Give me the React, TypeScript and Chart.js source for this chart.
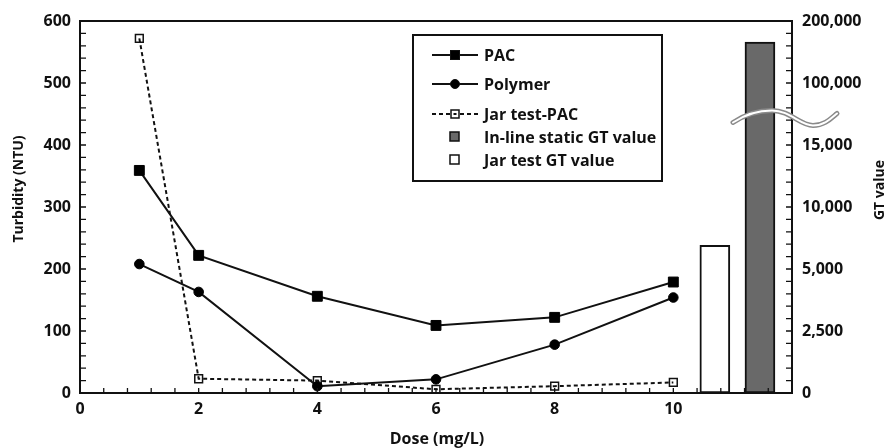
import React, { useEffect, useRef } from 'react';
import { Chart, registerables } from 'chart.js';

Chart.register(...registerables);

// ---- data ----
const doses = [1, 2, 4, 6, 8, 10];
const pacTurbidity = [359, 222, 156, 109, 122, 179];
const polymerTurbidity = [208, 163, 11, 22, 78, 154];
const jarPacTurbidity = [572, 23, 20, 6, 11, 17];

const gtSeriesLabels = ['In-line static GT value', 'Jar test GT value'];
const gtDose = [11.46, 10.7];
const gtValues = [166000, 6900];

const xTickLabels = ['0', '2', '4', '6', '8', '10'];
const turbidityTicks = [0, 100, 200, 300, 400, 500, 600];
const gtTickValues = [0, 2500, 5000, 10000, 15000, 100000, 200000];
const gtTickLabels = ['0', '2,500', '5,000', '10,000', '15,000', '100,000', '200,000'];

const FONT = "'Open Sans', sans-serif";
const INK = '#111111';

// broken GT axis: each labelled GT value sits on one turbidity gridline
function gtToAxis(v: number): number {
  for (let i = 0; i < gtTickValues.length - 1; i++) {
    const a = gtTickValues[i];
    const b = gtTickValues[i + 1];
    if (v <= b) return turbidityTicks[i] + ((v - a) / (b - a)) * (turbidityTicks[i + 1] - turbidityTicks[i]);
  }
  return turbidityTicks[turbidityTicks.length - 1];
}

const decorPlugin = {
  id: 'decor',
  afterDraw(chart: any) {
    const ctx = chart.ctx;
    const a = chart.chartArea;
    const sx = chart.scales.x;
    const sy = chart.scales.y;
    const sy2 = chart.scales.y2;
    ctx.save();
    ctx.setLineDash([]);

    // axis break mark
    const yc = sy2.getPixelForValue(446);
    const r = a.right;
    const wave = () => {
      ctx.beginPath();
      ctx.moveTo(r - 59, yc + 6);
      ctx.bezierCurveTo(r - 47, yc - 2, r - 32, yc - 6, r - 20, yc - 6);
      ctx.bezierCurveTo(r - 2, yc - 6, r + 8, yc + 9, r + 21, yc + 9);
      ctx.bezierCurveTo(r + 33, yc + 9, r + 40, yc + 1, r + 45, yc - 3);
      ctx.stroke();
    };
    ctx.lineCap = 'round';
    ctx.strokeStyle = '#8a8a8a';
    ctx.lineWidth = 5;
    wave();
    ctx.strokeStyle = '#ffffff';
    ctx.lineWidth = 2;
    wave();
    ctx.lineCap = 'butt';

    // axis titles
    ctx.fillStyle = INK;
    ctx.textAlign = 'center';
    ctx.textBaseline = 'middle';
    ctx.font = `bold 14px ${FONT}`;
    ctx.save();
    ctx.translate(19, 189);
    ctx.rotate(-Math.PI / 2);
    ctx.fillText('Turbidity (NTU)', 0, 0);
    ctx.restore();
    ctx.save();
    ctx.translate(880, 190);
    ctx.rotate(-Math.PI / 2);
    ctx.fillText('GT value', 0, 0);
    ctx.restore();
    ctx.font = `bold 16px ${FONT}`;
    ctx.fillText('Dose (mg/L)', 437, 439);

    // legend
    const lx = 413, ly = 35, lw = 249, lh = 146;
    ctx.fillStyle = '#ffffff';
    ctx.fillRect(lx, ly, lw, lh);
    ctx.strokeStyle = INK;
    ctx.lineWidth = 2;
    ctx.strokeRect(lx, ly, lw, lh);
    const rows = [55, 84, 114, 137, 160];
    const ds = chart.data.datasets;
    ctx.font = `bold 16px ${FONT}`;
    ctx.textAlign = 'left';
    ds.forEach((d: any, i: number) => {
      const y = rows[i];
      const mx = 455;
      if (d.type === 'line') {
        ctx.strokeStyle = INK;
        ctx.lineWidth = 2;
        ctx.setLineDash(d.borderDash || []);
        ctx.beginPath();
        ctx.moveTo(432, y);
        ctx.lineTo(478, y);
        ctx.stroke();
        ctx.setLineDash([]);
        ctx.lineWidth = d.pointBorderWidth;
        if (d.pointStyle === 'circle') {
          ctx.fillStyle = d.pointBackgroundColor;
          ctx.beginPath();
          ctx.arc(mx, y, 4.5, 0, Math.PI * 2);
          ctx.fill();
          ctx.stroke();
        } else if (d.borderDash) {
          ctx.fillStyle = '#ffffff';
          ctx.fillRect(mx - 4, y - 4, 8, 8);
          ctx.strokeRect(mx - 4, y - 4, 8, 8);
          ctx.fillStyle = INK;
          ctx.fillRect(mx - 1.5, y - 1, 3, 2);
        } else {
          ctx.fillStyle = d.pointBackgroundColor;
          ctx.fillRect(mx - 4.5, y - 4.5, 9, 9);
          ctx.strokeRect(mx - 4.5, y - 4.5, 9, 9);
        }
      } else {
        ctx.fillStyle = d.backgroundColor;
        ctx.strokeStyle = INK;
        ctx.lineWidth = 1.5;
        ctx.fillRect(mx - 5, y - 5, 9, 9);
        ctx.strokeRect(mx - 5, y - 5, 9, 9);
      }
      ctx.fillStyle = INK;
      ctx.fillText(d.label, 484, y + 1);
    });

    // frame top line + inward ticks
    const L = Number(a.left), T = Number(a.top), R = Number(a.right), B = Number(a.bottom);
    ctx.strokeStyle = INK;
    ctx.lineWidth = 2;
    ctx.beginPath();
    ctx.moveTo(L - 1, T);
    ctx.lineTo(R + 1, T);
    ctx.stroke();
    ctx.lineWidth = 1.3;
    ctx.beginPath();
    for (let v = 20; v < 600; v += 20) {
      const y = sy.getPixelForValue(v);
      ctx.moveTo(L, y);
      ctx.lineTo(L + 6, y);
      const y2 = sy2.getPixelForValue(v);
      ctx.moveTo(R, y2);
      ctx.lineTo(R - 6, y2);
    }
    for (let i = 1; i < 30; i++) {
      const x = sx.getPixelForValue(i * 0.4);
      ctx.moveTo(x, B);
      ctx.lineTo(x, B - 5);
    }
    ctx.stroke();
    ctx.restore();
  },
};

export default function App() {
  const ref = useRef<HTMLCanvasElement | null>(null);

  useEffect(() => {
    const canvas = ref.current;
    if (!canvas) return;
    const tickFont = { family: FONT, size: 16, weight: 'bold' as const };

    const chart = new Chart(canvas, {
      type: 'line',
      data: {
        datasets: [
          {
            type: 'line',
            label: 'PAC',
            data: doses.map((x, i) => ({ x, y: pacTurbidity[i] })),
            borderColor: INK,
            borderWidth: 2,
            pointStyle: 'rect',
            pointRadius: 7,
            pointBackgroundColor: '#000000',
            pointBorderColor: '#000000',
            pointBorderWidth: 1,
            yAxisID: 'y',
            clip: false,
          },
          {
            type: 'line',
            label: 'Polymer',
            data: doses.map((x, i) => ({ x, y: polymerTurbidity[i] })),
            borderColor: INK,
            borderWidth: 2,
            pointStyle: 'circle',
            pointRadius: 4.8,
            pointBackgroundColor: '#000000',
            pointBorderColor: '#000000',
            pointBorderWidth: 1,
            yAxisID: 'y',
            clip: false,
          },
          {
            type: 'line',
            label: 'Jar test-PAC',
            data: doses.map((x, i) => ({ x, y: jarPacTurbidity[i] })),
            borderColor: INK,
            borderWidth: 2,
            borderDash: [4, 3],
            pointStyle: 'rect',
            pointRadius: 5.5,
            pointBackgroundColor: 'rgba(255,255,255,0)',
            pointBorderColor: INK,
            pointBorderWidth: 1.5,
            yAxisID: 'y',
            clip: false,
          },
          {
            type: 'bar',
            label: gtSeriesLabels[0],
            data: [{ x: gtDose[0], y: gtToAxis(gtValues[0]) }],
            backgroundColor: '#696969',
            borderColor: INK,
            borderWidth: 2,
            borderSkipped: false,
            barThickness: 30,
            grouped: false,
            yAxisID: 'y2',
          },
          {
            type: 'bar',
            label: gtSeriesLabels[1],
            data: [{ x: gtDose[1], y: gtToAxis(gtValues[1]) }],
            backgroundColor: '#ffffff',
            borderColor: INK,
            borderWidth: 2,
            borderSkipped: false,
            barThickness: 30,
            grouped: false,
            yAxisID: 'y2',
          },
        ] as any,
      },
      options: {
        responsive: false,
        animation: false,
        layout: { padding: { top: 21, left: 0, right: 0, bottom: 0 } },
        plugins: { legend: { display: false }, tooltip: { enabled: false } },
        scales: {
          x: {
            type: 'linear',
            offset: false,
            min: 0,
            max: 12,
            grid: { display: false, drawTicks: false, offset: false },
            border: { display: true, color: INK, width: 2 },
            ticks: {
              stepSize: 2,
              padding: 7,
              color: INK,
              font: tickFont,
              maxRotation: 0,
              autoSkip: false,
              callback: (v: any) => xTickLabels[Math.round(Number(v) / 2)] ?? '',
            },
            afterFit: (s: any) => { s.height = 55; },
          },
          y: {
            type: 'linear',
            position: 'left',
            min: 0,
            max: 600,
            grid: { display: false, drawTicks: false },
            border: { display: true, color: INK, width: 2 },
            ticks: {
              stepSize: 100,
              padding: 9,
              color: INK,
              font: tickFont,
              callback: (v: any) => (turbidityTicks.includes(Number(v)) ? String(v) : ''),
            },
            afterFit: (s: any) => { s.width = 80; },
          },
          y2: {
            type: 'linear',
            position: 'right',
            min: 0,
            max: 600,
            grid: { display: false, drawTicks: false },
            border: { display: true, color: INK, width: 2 },
            ticks: {
              stepSize: 100,
              padding: 10,
              color: INK,
              font: tickFont,
              callback: (v: any) => gtTickLabels[turbidityTicks.indexOf(Number(v))] ?? '',
            },
            afterFit: (s: any) => { s.width = 101; },
          },
        },
      } as any,
      plugins: [decorPlugin],
    });
    return () => chart.destroy();
  }, []);

  return (
    <div style={{ position: 'absolute', left: 0, top: 0, width: 893, height: 448, background: '#fff' }}>
      <canvas ref={ref} width={893} height={448} />
    </div>
  );
}
